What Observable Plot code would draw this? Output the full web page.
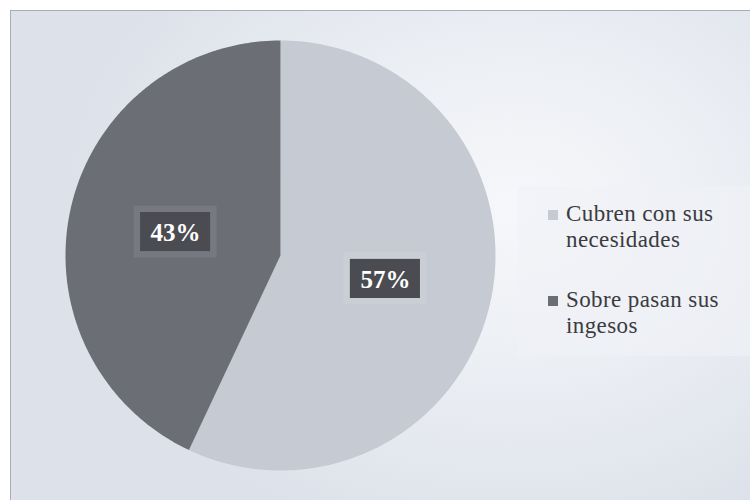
<!DOCTYPE html>
<html><head><meta charset="utf-8">
<script src="https://cdn.jsdelivr.net/npm/d3@7"></script>
<script src="https://cdn.jsdelivr.net/npm/@observablehq/plot@0.6"></script>
<style>
body{margin:0;background:#fff;}
#wrap{position:relative;width:750px;height:500px;overflow:hidden;}
#bg{position:absolute;left:10px;top:10px;width:740px;height:490px;box-sizing:border-box;border:1px solid #a9adb6;border-right:none;border-bottom:none;
background:radial-gradient(ellipse 60% 70% at 68% 40%, #f6f7fa 0%, #eceff4 45%, #dde2ea 100%);}
#chart{position:absolute;left:0;top:0;}
#chart svg{background:transparent;}
#legend{position:absolute;left:518px;top:186px;width:232px;height:170px;background:rgba(240,242,246,0.6);
font-family:"Liberation Serif","DejaVu Serif",serif;font-size:23px;letter-spacing:0.4px;color:#3a3b40;line-height:26px;}
.item{position:absolute;left:30px;display:flex;}
.sw{width:10px;height:10px;margin-top:9px;margin-right:8px;flex:none;}
</style></head>
<body>
<div id="wrap"><div id="bg"></div><div id="chart"></div>
<div id="legend"></div></div>
<script>
const categories = ["Cubren con sus necesidades", "Sobre pasan sus ingesos"];
const values = [57, 43];
const labels = ["57%", "43%"];
const colors = ["#c6cad2", "#6c6e76"];
const legendLines = [["Cubren con sus", "necesidades"], ["Sobre pasan sus", "ingesos"]];

const total = d3.sum(values);
let acc = 0;
const slices = values.map((v, i) => {
  const a0 = acc / total * 2 * Math.PI; acc += v;
  const a1 = acc / total * 2 * Math.PI;
  return {cat: categories[i], value: v, label: labels[i], a0, a1, mid: (a0 + a1) / 2};
});
// outline vertices of each slice (clockwise from 12 o'clock)
const poly = [];
slices.forEach(s => {
  poly.push({cat: s.cat, x: 0, y: 0});
  const n = Math.max(2, Math.ceil((s.a1 - s.a0) / 0.01));
  for (let k = 0; k <= n; k++) {
    const a = s.a0 + (s.a1 - s.a0) * k / n;
    poly.push({cat: s.cat, x: Math.sin(a), y: Math.cos(a)});
  }
  poly.push({cat: s.cat, x: 0, y: 0});
});
const lab = slices.map(s => ({label: s.label, x: 0.5 * Math.sin(s.mid), y: 0.5 * Math.cos(s.mid)}));
const bw = 0.163, bh = 0.091;

const plot = Plot.plot({
  width: 750, height: 500,
  marginLeft: 65, marginRight: 255, marginTop: 40, marginBottom: 30,
  x: {domain: [-1, 1], axis: null},
  y: {domain: [-1, 1], axis: null},
  color: {domain: categories, range: colors},
  style: {background: "transparent"},
  marks: [
    Plot.line(poly, {x: "x", y: "y", z: "cat", fill: "cat", stroke: "none", curve: "linear"}),
    Plot.rect(lab, {x1: d => d.x - bw - 0.03, x2: d => d.x + bw + 0.03, y1: d => d.y - bh - 0.03, y2: d => d.y + bh + 0.03, fill: "#ffffff", fillOpacity: 0.08}),
    Plot.rect(lab, {x1: d => d.x - bw, x2: d => d.x + bw, y1: d => d.y - bh, y2: d => d.y + bh, fill: "#4b4c52"}),
    Plot.text(lab, {x: "x", y: "y", text: "label", fill: "#ffffff", fontSize: 25, fontWeight: "bold", fontFamily: "Liberation Serif, serif", dy: 1})
  ]
});
document.getElementById("chart").appendChild(plot);

const leg = document.getElementById("legend");
legendLines.forEach((lines, i) => {
  const it = document.createElement("div");
  it.className = "item";
  it.style.top = (i === 0 ? 15 : 101) + "px";
  const sw = document.createElement("div");
  sw.className = "sw"; sw.style.background = colors[i];
  const tx = document.createElement("div");
  tx.innerHTML = lines.join("<br>");
  it.appendChild(sw); it.appendChild(tx);
  leg.appendChild(it);
});
</script>
</body></html>
